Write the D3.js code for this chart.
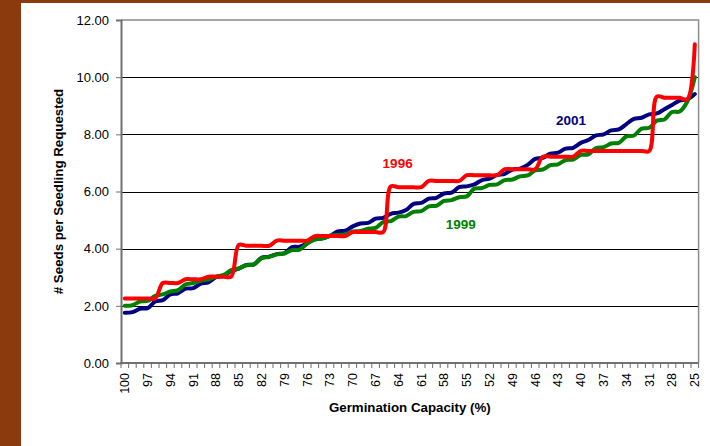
<!DOCTYPE html>
<html>
<head>
<meta charset="utf-8">
<script src="https://cdn.jsdelivr.net/npm/d3@7"></script>
<style>
  body { margin: 0; background: #fff; }
  svg { display: block; font-family: Arial, "Liberation Sans", sans-serif; }
</style>
</head>
<body>
<div id="app"></div>
<script>
// Germination capacity categories (x axis runs from 100 down to 25)
const capacity = [100, 99, 98, 97, 96, 95, 94, 93, 92, 91, 90, 89, 88, 87, 86, 85, 84, 83, 82, 81,
  80, 79, 78, 77, 76, 75, 74, 73, 72, 71, 70, 69, 68, 67, 66, 65, 64, 63, 62, 61,
  60, 59, 58, 57, 56, 55, 54, 53, 52, 51, 50, 49, 48, 47, 46, 45, 44, 43, 42, 41,
  40, 39, 38, 37, 36, 35, 34, 33, 32, 31, 30, 29, 28, 27, 26, 25];

const xLabels = [100, 97, 94, 91, 88, 85, 82, 79, 76, 73, 70, 67, 64, 61, 58, 55, 52, 49, 46, 43, 40, 37, 34, 31, 28, 25];
const yTicks = [0, 2, 4, 6, 8, 10, 12];

// Seeds per seedling requested
const s2001 = [1.76, 1.78, 1.90, 1.92, 2.15, 2.20, 2.40, 2.44, 2.60, 2.62, 2.78, 2.82, 3.00, 3.05, 3.22, 3.30,
  3.43, 3.45, 3.68, 3.72, 3.81, 3.84, 4.05, 4.07, 4.19, 4.33, 4.36, 4.45, 4.60, 4.63,
  4.78, 4.88, 4.90, 5.05, 5.08, 5.22, 5.26, 5.35, 5.57, 5.60, 5.75, 5.78, 5.93, 5.96, 6.15, 6.18,
  6.25, 6.40, 6.45, 6.58, 6.62, 6.77, 6.80, 6.93, 7.14, 7.18, 7.32, 7.36, 7.50, 7.53,
  7.70, 7.80, 7.96, 8.00, 8.14, 8.17, 8.36, 8.54, 8.58, 8.70, 8.73, 8.88, 9.03, 9.18, 9.22, 9.41];

const s1999 = [2.00, 2.02, 2.15, 2.17, 2.35, 2.40, 2.50, 2.55, 2.75, 2.80, 2.88, 2.92, 3.02, 3.08, 3.25, 3.31,
  3.42, 3.45, 3.68, 3.71, 3.80, 3.83, 3.95, 3.97, 4.18, 4.32, 4.35, 4.45, 4.48, 4.50,
  4.60, 4.62, 4.70, 4.73, 4.93, 4.96, 5.12, 5.14, 5.29, 5.31, 5.48, 5.50, 5.67, 5.70, 5.80, 5.83,
  6.10, 6.12, 6.23, 6.25, 6.40, 6.42, 6.53, 6.56, 6.74, 6.77, 6.92, 6.95, 7.10, 7.12,
  7.28, 7.30, 7.52, 7.55, 7.68, 7.70, 7.93, 7.96, 8.20, 8.23, 8.48, 8.52, 8.78, 8.80, 9.14, 10.00];

const s1996 = [2.26, 2.26, 2.26, 2.26, 2.26, 2.80, 2.80, 2.80, 2.93, 2.93, 2.93, 3.02, 3.02, 3.02, 3.02, 4.13,
  4.10, 4.10, 4.10, 4.10, 4.28, 4.28, 4.28, 4.28, 4.28, 4.44, 4.44, 4.44, 4.44, 4.44,
  4.58, 4.58, 4.58, 4.58, 4.58, 6.18, 6.15, 6.15, 6.15, 6.15, 6.37, 6.37, 6.37, 6.37, 6.37, 6.57,
  6.57, 6.57, 6.57, 6.57, 6.78, 6.78, 6.78, 6.78, 6.78, 7.22, 7.22, 7.22, 7.22, 7.22,
  7.42, 7.42, 7.42, 7.42, 7.42, 7.42, 7.42, 7.42, 7.42, 7.42, 9.32, 9.28, 9.28, 9.28, 9.22, 11.15];

const seriesNames = ["2001", "1999", "1996"];
const seriesValues = [s2001, s1999, s1996];
const seriesColors = ["#000080", "#008000", "#ff0000"];
// where each series name sits, in data units (capacity, seeds)
const labelCapacity = [41.3, 55.8, 64.1];
const labelValue = [8.33, 4.69, 6.82];

const width = 710, height = 446;
const plotLeft = 121, plotRight = 698.6, plotTop = 20, plotBottom = 363;

const svg = d3.select("#app").append("svg")
  .attr("width", width)
  .attr("height", height);

// brown frame on the left and top
svg.append("rect").attr("x", 0).attr("y", 0).attr("width", 21).attr("height", height).attr("fill", "#8b3a0e");
svg.append("rect").attr("x", 0).attr("y", 0).attr("width", width).attr("height", 3).attr("fill", "#8b3a0e");

const x = d3.scaleBand().domain(capacity).range([plotLeft, plotRight]);
const bw = x.bandwidth();
const xPos = d3.scaleLinear().domain([100, 25]).range([x(100) + bw / 2, x(25) + bw / 2]);
const y = d3.scaleLinear().domain([0, 12]).range([plotBottom, plotTop]);

// gridlines
svg.append("g")
  .selectAll("line")
  .data(yTicks.filter(d => d > 0 && d < 12))
  .join("line")
  .attr("x1", plotLeft).attr("x2", plotRight)
  .attr("y1", d => Math.round(y(d)) + 0.5).attr("y2", d => Math.round(y(d)) + 0.5)
  .attr("stroke", "#000")
  .attr("stroke-width", 1);

// plot area border (top and right)
svg.append("path")
  .attr("d", `M${plotLeft},${plotTop}H${plotRight}V${plotBottom}`)
  .attr("fill", "none")
  .attr("stroke", "#8c8c8c")
  .attr("stroke-width", 1.5);

// y axis
const yAxis = svg.append("g")
  .attr("transform", `translate(${plotLeft},0)`)
  .call(d3.axisLeft(y).tickValues(yTicks).tickFormat(d3.format(".2f")).tickSize(5).tickPadding(7));
yAxis.select(".domain").attr("stroke", "#707070").attr("stroke-width", 2);
yAxis.selectAll(".tick line").attr("stroke", "#707070");
yAxis.selectAll("text").attr("font-size", 13).attr("font-family", "Arial, 'Liberation Sans', sans-serif").attr("fill", "#000");

// x axis: ticks at category boundaries, labels every third category
const xAxis = svg.append("g").attr("transform", `translate(0,${plotBottom})`);
xAxis.selectAll("line.bound")
  .data(capacity.concat(["end"]))
  .join("line")
  .attr("class", "bound")
  .attr("x1", d => d === "end" ? plotRight : x(d))
  .attr("x2", d => d === "end" ? plotRight : x(d))
  .attr("y1", 0).attr("y2", 5)
  .attr("stroke", "#707070");
xAxis.append("line")
  .attr("x1", plotLeft - 1).attr("x2", plotRight)
  .attr("stroke", "#707070").attr("stroke-width", 2);
xAxis.selectAll("text")
  .data(xLabels)
  .join("text")
  .attr("transform", d => `translate(${x(d) + bw / 2},10) rotate(-90)`)
  .attr("text-anchor", "end")
  .attr("dy", "0.35em")
  .attr("font-size", 12.5)
  .text(d => d);

// axis titles
svg.append("text")
  .attr("x", (plotLeft + plotRight) / 2)
  .attr("y", 412)
  .attr("text-anchor", "middle")
  .attr("font-weight", "bold")
  .attr("font-size", 13.3)
  .text("Germination Capacity (%)");

svg.append("text")
  .attr("transform", `translate(63,${(plotTop + plotBottom) / 2}) rotate(-90)`)
  .attr("text-anchor", "middle")
  .attr("font-weight", "bold")
  .attr("font-size", 13.3)
  .text("# Seeds per Seedling Requested");

// series lines (smoothed, like the spreadsheet's smoothed lines)
const line = d3.line()
  .x((d, i) => x(capacity[i]) + bw / 2)
  .y(d => y(d))
  .curve(d3.curveCatmullRom.alpha(0.5));

svg.append("g")
  .selectAll("path")
  .data(seriesValues)
  .join("path")
  .attr("d", line)
  .attr("fill", "none")
  .attr("stroke", (d, i) => seriesColors[i])
  .attr("stroke-width", 4)
  .attr("stroke-linejoin", "round")
  .attr("stroke-linecap", "round");

// series name labels
svg.append("g")
  .selectAll("text")
  .data(seriesNames)
  .join("text")
  .attr("x", (d, i) => xPos(labelCapacity[i]))
  .attr("y", (d, i) => y(labelValue[i]))
  .attr("text-anchor", "middle")
  .attr("font-weight", "bold")
  .attr("font-size", 13.5)
  .attr("fill", (d, i) => seriesColors[i])
  .text(d => d);
</script>
</body>
</html>
